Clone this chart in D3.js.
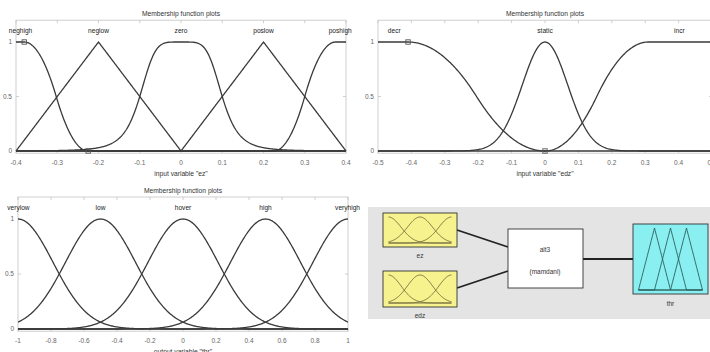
<!DOCTYPE html>
<html>
<head>
<meta charset="utf-8">
<script src="https://cdn.jsdelivr.net/npm/d3@7"></script>
<style>
  body { margin: 0; background: #fff; }
  svg { display: block; font-family: "Liberation Sans", Arial, sans-serif; }
</style>
</head>
<body>
<svg id="chart" width="710" height="352"></svg>
<script>
// input variable "ez"
const ezRange = [-0.4, 0.4];
const ezNames = ["neghigh", "neglow", "zero", "poslow", "poshigh"];
const ezTypes = ["zmf", "trimf", "gbellmf", "trimf", "smf"];
const ezParams = [[-0.38, -0.225], [-0.4, -0.2, 0], [0.1, 2.5, 0], [0, 0.2, 0.4], [0.225, 0.375]];
const ezTicks = [-0.4, -0.3, -0.2, -0.1, 0, 0.1, 0.2, 0.3, 0.4];

// input variable "edz"
const edzRange = [-0.5, 0.5];
const edzNames = ["decr", "static", "incr"];
const edzTypes = ["zmf", "gaussmf", "smf"];
const edzParams = [[-0.41, 0], [0.068, 0], [0, 0.31]];
const edzTicks = [-0.5, -0.4, -0.3, -0.2, -0.1, 0, 0.1, 0.2, 0.3, 0.4, 0.5];

// output variable "thr"
const thrRange = [-1, 1];
const thrNames = ["verylow", "low", "hover", "high", "veryhigh"];
const thrTypes = ["gaussmf", "gaussmf", "gaussmf", "gaussmf", "gaussmf"];
const thrParams = [[0.2123, -1], [0.2123, -0.5], [0.2123, 0], [0.2123, 0.5], [0.2123, 1]];
const thrTicks = [-1, -0.8, -0.6, -0.4, -0.2, 0, 0.2, 0.4, 0.6, 0.8, 1];

const yTicks = [0, 0.5, 1];

// FIS diagram
const fisInputs = ["ez", "edz"];
const fisName = "alt3";
const fisType = "(mamdani)";
const fisOutput = "thr";
const iconInTypes = ["gaussmf", "gaussmf", "gaussmf"];
const iconInParams = [[0.4, -1], [0.4, 0], [0.4, 1]];
const iconOutTypes = ["trimf", "trimf", "trimf"];
const iconOutParams = [[-1, -0.5, 0], [-0.5, 0, 0.5], [0, 0.5, 1]];

const mf = {
  trimf: (x, p) => {
    const [a, b, c] = p;
    const l = b === a ? (x >= a ? 1 : 0) : (x - a) / (b - a);
    const r = c === b ? (x <= c ? 1 : 0) : (c - x) / (c - b);
    return Math.max(Math.min(l, r), 0);
  },
  zmf: (x, p) => {
    const [a, b] = p, m = (a + b) / 2;
    if (x <= a) return 1;
    if (x <= m) return 1 - 2 * Math.pow((x - a) / (b - a), 2);
    if (x <= b) return 2 * Math.pow((x - b) / (b - a), 2);
    return 0;
  },
  smf: (x, p) => 1 - mf.zmf(x, p),
  gaussmf: (x, p) => Math.exp(-Math.pow(x - p[1], 2) / (2 * p[0] * p[0])),
  gbellmf: (x, p) => 1 / (1 + Math.pow(Math.abs((x - p[2]) / p[0]), 2 * p[1]))
};

const svg = d3.select("#chart");
const lineColor = "#3a3a3a";

function plotMF(o) {
  const x = d3.scaleLinear().domain(o.range).range([o.left, o.right]);
  const y = d3.scaleLinear().domain([0, 1]).range([o.zeroY, o.oneY]);
  const boxTop = y(1.2), boxBottom = y(-0.02);
  const g = svg.append("g");

  g.append("rect")
    .attr("x", o.left).attr("y", boxTop)
    .attr("width", o.right - o.left).attr("height", boxBottom - boxTop)
    .attr("fill", "none").attr("stroke", "#c4c4c4").attr("stroke-width", 0.8);

  // ticks inside the box
  o.ticks.forEach(t => {
    [[boxBottom, boxBottom - 3], [boxTop, boxTop + 3]].forEach(([a, b]) => {
      g.append("line").attr("x1", x(t)).attr("x2", x(t)).attr("y1", a).attr("y2", b)
        .attr("stroke", "#c4c4c4").attr("stroke-width", 0.8);
    });
    g.append("text").attr("x", x(t)).attr("y", boxBottom + 12)
      .attr("text-anchor", "middle").attr("font-size", 6.5).attr("fill", "#666")
      .text(String(t));
  });
  yTicks.forEach(t => {
    [[o.left, o.left + 3], [o.right, o.right - 3]].forEach(([a, b]) => {
      g.append("line").attr("x1", a).attr("x2", b).attr("y1", y(t)).attr("y2", y(t))
        .attr("stroke", "#c4c4c4").attr("stroke-width", 0.8);
    });
    g.append("text").attr("x", o.left - 4).attr("y", y(t) + 2.3)
      .attr("text-anchor", "end").attr("font-size", 6.5).attr("fill", "#666")
      .text(String(t));
  });

  const xs = d3.range(0, 401).map(i => o.range[0] + (o.range[1] - o.range[0]) * i / 400);
  const line = d3.line().x(d => x(d[0])).y(d => y(d[1]));

  o.names.forEach((name, i) => {
    const pts = xs.map(v => [v, mf[o.types[i]](v, o.params[i])]);
    g.append("path").attr("d", line(pts))
      .attr("fill", "none").attr("stroke", lineColor).attr("stroke-width", 1.3);
    const top = d3.max(pts, d => d[1]);
    const cx = d3.mean(pts.filter(d => d[1] >= top - 1e-3), d => d[0]);
    g.append("text").attr("x", x(cx)).attr("y", y(1.1) + 2.3)
      .attr("text-anchor", "middle").attr("font-size", 6.6).attr("fill", "#222")
      .text(name);
  });

  if (o.selected != null) {
    const p = o.params[o.selected];
    const marks = o.types[o.selected] === "zmf" ? [[p[0], 1], [p[1], 0]] : [[p[0], 0], [p[1], 1]];
    marks.forEach(m => {
      g.append("rect").attr("x", x(m[0]) - 2.2).attr("y", y(m[1]) - 2.2)
        .attr("width", 4.4).attr("height", 4.4)
        .attr("fill", "none").attr("stroke", "#555").attr("stroke-width", 0.9);
    });
  }

  g.append("text").attr("x", (o.left + o.right) / 2).attr("y", boxTop - 4)
    .attr("text-anchor", "middle").attr("font-size", 6.7).attr("fill", "#333")
    .text("Membership function plots");
  g.append("text").attr("x", (o.left + o.right) / 2).attr("y", boxBottom + 22.5)
    .attr("text-anchor", "middle").attr("font-size", 6.7).attr("fill", "#333")
    .text(o.xlabel);
}

plotMF({left: 16, right: 346, zeroY: 151, oneY: 42, range: ezRange, names: ezNames,
  types: ezTypes, params: ezParams, ticks: ezTicks, xlabel: 'input variable "ez"', selected: 0});
plotMF({left: 378, right: 712, zeroY: 151, oneY: 42, range: edzRange, names: edzNames,
  types: edzTypes, params: edzParams, ticks: edzTicks, xlabel: 'input variable "edz"', selected: 0});
plotMF({left: 18, right: 348, zeroY: 329, oneY: 219, range: thrRange, names: thrNames,
  types: thrTypes, params: thrParams, ticks: thrTicks, xlabel: 'output variable "thr"', selected: null});

// FIS diagram
const dg = svg.append("g");
dg.append("rect").attr("x", 368).attr("y", 207).attr("width", 344).attr("height", 112).attr("fill", "#e4e4e4");

[[457, 230, 508, 247], [457, 288, 508, 271], [583, 259, 633, 259]].forEach(l => {
  dg.append("line").attr("x1", l[0]).attr("y1", l[1]).attr("x2", l[2]).attr("y2", l[3])
    .attr("stroke", "#222").attr("stroke-width", 1.8);
});

function icon(bx, by, bw, bh, types, params, color) {
  const ix = d3.scaleLinear().domain([-1, 1]).range([bx + 5.5, bx + bw - 5.5]);
  const iy = d3.scaleLinear().domain([0, 1]).range([by + bh - 4, by + 4]);
  const xs = d3.range(0, 101).map(i => -1 + 2 * i / 100);
  const line = d3.line().x(d => ix(d[0])).y(d => iy(d[1]));
  types.forEach((t, i) => {
    dg.append("path").attr("d", line(xs.map(v => [v, mf[t](v, params[i])])))
      .attr("fill", "none").attr("stroke", color).attr("stroke-width", 0.9);
  });
  dg.append("line").attr("x1", ix(-1)).attr("x2", ix(1)).attr("y1", iy(0)).attr("y2", iy(0))
    .attr("stroke", color).attr("stroke-width", 0.9);
}

const inBoxes = [[383, 213, 74, 34], [383, 271, 74, 36]];
fisInputs.forEach((name, i) => {
  const [bx, by, bw, bh] = inBoxes[i];
  dg.append("rect").attr("x", bx).attr("y", by).attr("width", bw).attr("height", bh)
    .attr("fill", "#f6f28e").attr("stroke", "#333").attr("stroke-width", 0.9);
  icon(bx, by, bw, bh, iconInTypes, iconInParams, "#6f6a3c");
  dg.append("text").attr("x", bx + bw / 2).attr("y", by + bh + 11)
    .attr("text-anchor", "middle").attr("font-size", 6.5).attr("fill", "#333").text(name);
});

dg.append("rect").attr("x", 508).attr("y", 229).attr("width", 75).attr("height", 59)
  .attr("fill", "#fff").attr("stroke", "#333").attr("stroke-width", 0.9);
dg.append("text").attr("x", 545).attr("y", 251.5).attr("text-anchor", "middle")
  .attr("font-size", 6.5).attr("fill", "#333").text(fisName);
dg.append("text").attr("x", 545).attr("y", 273.5).attr("text-anchor", "middle")
  .attr("font-size", 6.5).attr("fill", "#333").text(fisType);

dg.append("rect").attr("x", 633).attr("y", 224).attr("width", 75).attr("height", 70)
  .attr("fill", "#8aeff0").attr("stroke", "#333").attr("stroke-width", 0.9);
icon(633, 224, 75, 70, iconOutTypes, iconOutParams, "#2a5c5c");
dg.append("text").attr("x", 670.5).attr("y", 305.5).attr("text-anchor", "middle")
  .attr("font-size", 6.5).attr("fill", "#333").text(fisOutput);
</script>
</body>
</html>
